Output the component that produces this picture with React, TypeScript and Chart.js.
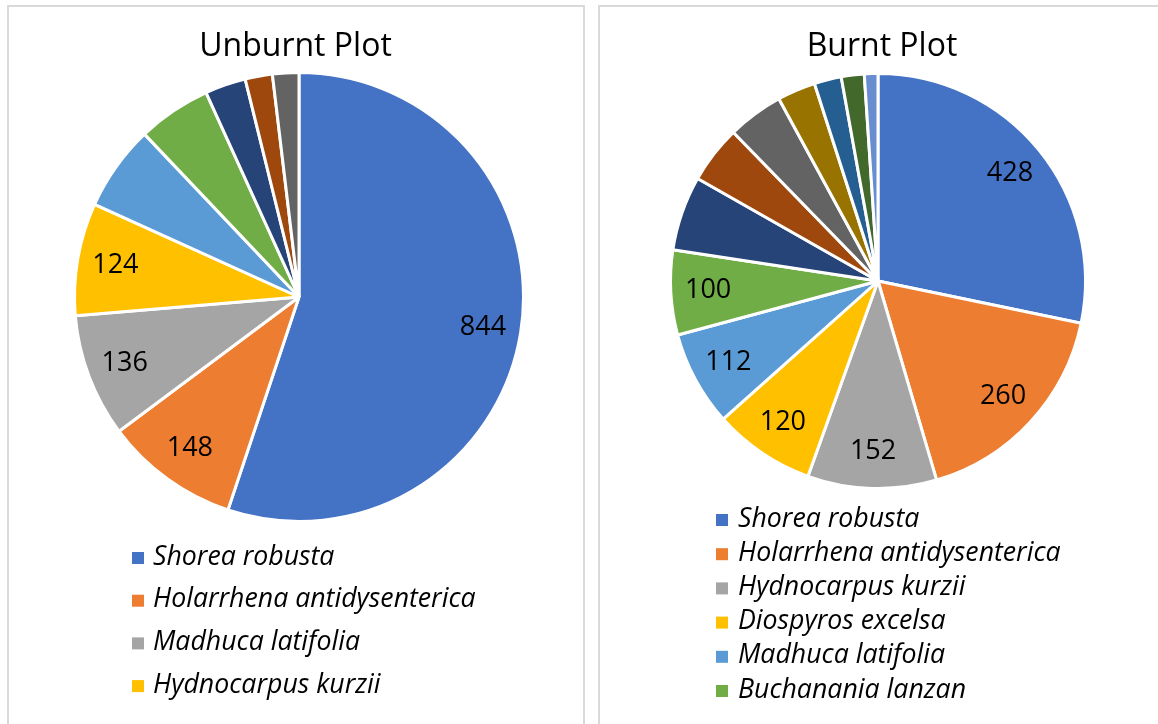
import React, { useEffect, useRef } from "react";
import Chart from "chart.js/auto";

// ---------- Data ----------
const unburntSpecies = [
  "Shorea robusta",
  "Holarrhena antidysenterica",
  "Madhuca latifolia",
  "Hydnocarpus kurzii",
  "Species 5",
  "Species 6",
  "Species 7",
  "Species 8",
  "Species 9",
];
const unburntValues = [844, 148, 136, 124, 94, 81, 45, 30, 29];
const unburntColors = [
  "#4472C4", "#ED7D31", "#A5A5A5", "#FFC000", "#5B9BD5",
  "#70AD47", "#264478", "#9E480E", "#636363",
];

const burntSpecies = [
  "Shorea robusta",
  "Holarrhena antidysenterica",
  "Hydnocarpus kurzii",
  "Diospyros excelsa",
  "Madhuca latifolia",
  "Buchanania lanzan",
  "Species 7",
  "Species 8",
  "Species 9",
  "Species 10",
  "Species 11",
  "Species 12",
  "Species 13",
];
const burntValues = [428, 260, 152, 120, 112, 100, 88, 68, 66, 45, 32, 27, 16];
const burntColors = [
  "#4472C4", "#ED7D31", "#A5A5A5", "#FFC000", "#5B9BD5", "#70AD47",
  "#264478", "#9E480E", "#636363", "#997300", "#255E91", "#43682B", "#698ED0",
];

const FONT = "'Open Sans', 'DejaVu Sans', sans-serif";

// ---------- Plugin: title, value labels, vertical legend ----------
const decorPlugin = {
  id: "decor",
  afterDatasetsDraw(chart: any, _args: any, opts: any) {
    const ctx = chart.ctx;
    const meta = chart.getDatasetMeta(0);
    const ds = chart.data.datasets[0];
    ctx.save();

    // value labels
    ctx.font = `${opts.valueSize}px ${FONT}`;
    ctx.fillStyle = "#000";
    ctx.textAlign = "center";
    ctx.textBaseline = "middle";
    meta.data.forEach((arc: any, i: number) => {
      if (i >= opts.valueCount) return;
      const p = arc.getProps(["x", "y", "startAngle", "endAngle", "outerRadius"], true);
      const mid = (p.startAngle + p.endAngle) / 2;
      const r = p.outerRadius * opts.valueRadius;
      ctx.fillText(String(ds.data[i]), p.x + Math.cos(mid) * r, p.y + Math.sin(mid) * r);
    });

    // title
    ctx.font = `${opts.titleSize}px ${FONT}`;
    ctx.textBaseline = "alphabetic";
    ctx.fillText(opts.title, opts.titleX, opts.titleY);

    // legend
    ctx.textAlign = "left";
    ctx.textBaseline = "middle";
    ctx.font = `italic ${opts.legendSize}px ${FONT}`;
    for (let i = 0; i < opts.legendCount; i++) {
      const y = opts.legendY + i * opts.legendStep;
      ctx.fillStyle = ds.backgroundColor[i];
      ctx.fillRect(opts.legendBoxX, y - opts.legendBox / 2 + 1, opts.legendBox, opts.legendBox);
      ctx.fillStyle = "#000";
      ctx.fillText(chart.data.labels[i], opts.legendTextX, y);
    }
    ctx.restore();
  },
};

function PieCanvas(props: {
  labels: string[];
  values: number[];
  colors: string[];
  width: number;
  height: number;
  padding: any;
  decor: any;
  style: React.CSSProperties;
}) {
  const ref = useRef<HTMLCanvasElement | null>(null);
  useEffect(() => {
    if (!ref.current) return;
    const chart = new Chart(ref.current, {
      type: "pie",
      data: {
        labels: props.labels,
        datasets: [
          {
            data: props.values,
            backgroundColor: props.colors,
            borderColor: "#FFFFFF",
            borderWidth: 3,
          },
        ],
      },
      options: {
        responsive: false,
        animation: false,
        layout: { padding: props.padding },
        plugins: {
          legend: { display: false },
          title: { display: false },
          tooltip: { enabled: false },
          decor: props.decor,
        } as any,
      },
      plugins: [decorPlugin as any],
    });
    return () => chart.destroy();
  }, []);
  return (
    <canvas
      ref={ref}
      width={props.width}
      height={props.height}
      style={{ position: "absolute", width: props.width, height: props.height, ...props.style }}
    />
  );
}

export default function App() {
  const panel: React.CSSProperties = {
    position: "absolute",
    top: 5,
    height: 800,
    border: "2px solid #D9D9D9",
    boxSizing: "border-box",
    background: "#FFFFFF",
  };
  return (
    <div
      style={{
        position: "fixed",
        left: 0,
        top: 0,
        width: 1158,
        height: 724,
        overflow: "hidden",
        background: "#FFFFFF",
      }}
    >
      <div style={{ ...panel, left: 7, width: 578 }} />
      <div style={{ ...panel, left: 598, width: 600 }} />
      <PieCanvas
        labels={unburntSpecies}
        values={unburntValues}
        colors={unburntColors}
        width={574}
        height={717}
        padding={{ left: 64, top: 64, right: 58, bottom: 201 }}
        style={{ left: 9, top: 7 }}
        decor={{
          title: "Unburnt Plot",
          titleSize: 32,
          titleX: 286.5,
          titleY: 49,
          valueSize: 27,
          valueCount: 4,
          valueRadius: 0.83,
          legendCount: 4,
          legendSize: 26.7,
          legendBox: 12,
          legendBoxX: 123,
          legendTextX: 144,
          legendY: 550,
          legendStep: 42.7,
        }}
      />
      <PieCanvas
        labels={burntSpecies}
        values={burntValues}
        colors={burntColors}
        width={558}
        height={717}
        padding={{ left: 69, top: 65, right: 71, bottom: 234 }}
        style={{ left: 600, top: 7 }}
        decor={{
          title: "Burnt Plot",
          titleSize: 32,
          titleX: 282,
          titleY: 49,
          valueSize: 27,
          valueCount: 6,
          valueRadius: 0.82,
          legendCount: 6,
          legendSize: 26.7,
          legendBox: 12,
          legendBoxX: 116,
          legendTextX: 138,
          legendY: 512,
          legendStep: 34.2,
        }}
      />
    </div>
  );
}
